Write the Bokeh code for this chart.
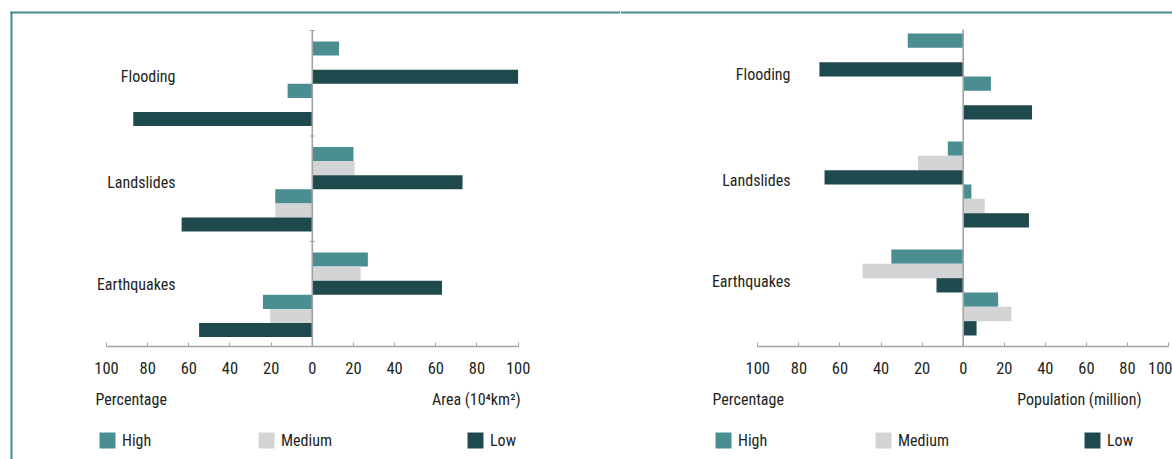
from bokeh.plotting import figure
from bokeh.layouts import row
from bokeh.models import (Range1d, LinearAxis, FixedTicker, CustomJSTickFormatter,
                          Legend, LegendItem)
from bokeh.core.properties import value
from bokeh.embed import file_html
from bokeh.resources import INLINE

# ---- data -------------------------------------------------------------
hazards = ["Flooding", "Landslides", "Earthquakes"]
levels = ["High", "Medium", "Low"]

# exposed area (10^4 km²)
area_high = [13, 20, 27]
area_medium = [0, 20.5, 23.5]
area_low = [100, 73, 63]
# share of area (%)
area_pct_high = [12, 18, 24]
area_pct_medium = [0, 18, 20.5]
area_pct_low = [87, 63.5, 55]

# share of population (%)
pop_pct_high = [27, 7.5, 35]
pop_pct_medium = [0, 22, 49]
pop_pct_low = [70, 67.5, 13]
# exposed population (million)
pop_high = [13.5, 4, 17]
pop_medium = [0, 10.5, 23.5]
pop_low = [33.5, 32, 6.5]

tick_values = [-100, -80, -60, -40, -20, 0, 20, 40, 60, 80, 100]

# ---- style ------------------------------------------------------------
COLORS = {"High": "#4b8e91", "Medium": "#d3d4d6", "Low": "#1f4a4d"}
TEXT = "#231f20"
AXIS = "#a3a3a3"
FRAME = "#4a8b8c"
FONT = "Roboto Condensed"
FS = "16px"
TICK_FS = "16.5px"
H = 459

# page-pixel geometry of each panel
LEFT = dict(
    x0=0, width=620, zero=311.8, scale=2.058,
    top=30, band=105.5, pad=11, slot=14.1, axis=346,
    upper=[area_high, area_medium, area_low], upper_sign=1,
    lower=[area_pct_high, area_pct_medium, area_pct_low],
    cat_right=175, cat_y=[75.5, 181.5, 283.5],
    ltitle=("Percentage", 95), rtitle=("Area (10\u2074km\u00b2)", 520),
    legend_x=[99, 258, 467], band_ticks=True, left_border=True,
)
RIGHT = dict(
    x0=620, width=552, zero=962.7, scale=2.054,
    top=29, band=108, pad=4, slot=14.33, axis=346,
    upper=[pop_pct_high, pop_pct_medium, pop_pct_low], upper_sign=-1,
    lower=[pop_high, pop_medium, pop_low],
    cat_right=790, cat_y=[74, 180, 281],
    ltitle=("Percentage", 712), rtitle=("Population (million)", 1141),
    legend_x=[715, 875, 1084], band_ticks=False, left_border=False,
)


def build_panel(s):
    def xd(gx):
        return (gx - s["zero"]) / s["scale"]

    def yd(py):
        return (py - s["top"]) / s["band"]

    p = figure(width=s["width"], height=H,
               x_range=Range1d(xd(s["x0"]), xd(s["x0"] + s["width"])),
               y_range=Range1d(yd(H), yd(0)),
               x_axis_type=None, y_axis_type=None,
               toolbar_location=None, output_backend="svg",
               min_border_left=0, min_border_right=0,
               min_border_top=0, min_border_bottom=0)
    p.outline_line_color = None

    n = len(hazards)
    bar_h = s["slot"] / s["band"]

    def slot_y(k):
        return [c + (s["pad"] + s["slot"] * (k + 0.5)) / s["band"] for c in range(n)]

    # bars: upper trio of slots and lower trio of slots in each hazard band
    legend_renderers = {}
    for k, lvl in enumerate(levels):
        up = [s["upper_sign"] * v for v in s["upper"][k]]
        lo = [-s["upper_sign"] * v for v in s["lower"][k]]
        r = p.hbar(y=slot_y(k), left=0, right=up, height=bar_h,
                   fill_color=COLORS[lvl], line_color=None)
        p.hbar(y=slot_y(k + 3), left=0, right=lo, height=bar_h,
               fill_color=COLORS[lvl], line_color=None)
        legend_renderers[lvl] = r

    # zero line
    p.segment(x0=[0], y0=[0], x1=[0], y1=[yd(s["axis"])],
              line_color=AXIS, line_width=1.6)
    if s["band_ticks"]:
        p.segment(x0=[-1.2] * n, x1=[1.2] * n, y0=list(range(n)), y1=list(range(n)),
                  line_color=AXIS, line_width=1.2)

    # value axis
    ax = LinearAxis(fixed_location=yd(s["axis"]), bounds=(-100, 100),
                    ticker=FixedTicker(ticks=tick_values),
                    formatter=CustomJSTickFormatter(code="return Math.abs(tick).toString()"))
    ax.axis_line_color = AXIS
    ax.axis_line_width = 1.5
    ax.major_tick_line_color = AXIS
    ax.major_tick_in = 4
    ax.major_tick_out = 0
    ax.minor_tick_line_color = None
    ax.major_label_text_font = FONT
    ax.major_label_text_font_size = TICK_FS
    ax.major_label_text_color = TEXT
    ax.major_label_standoff = 15
    p.add_layout(ax, "below")

    # hazard names
    p.text(x=[xd(s["cat_right"])] * n, y=[yd(v) for v in s["cat_y"]], text=hazards,
           text_align="right", text_baseline="middle", text_font=value(FONT),
           text_font_size=FS, text_color=TEXT)

    # axis titles
    lt, lx = s["ltitle"]
    rt, rx = s["rtitle"]
    p.text(x=[xd(lx)], y=[yd(399)], text=[lt], text_align="left",
           text_baseline="middle", text_font=value(FONT), text_font_size=FS,
           text_color=TEXT)
    p.text(x=[xd(rx)], y=[yd(399)], text=[rt], text_align="right",
           text_baseline="middle", text_font=value(FONT), text_font_size=FS,
           text_color=TEXT)

    # frame rule along the top (and left edge of the first panel)
    x_left = 10 if s["left_border"] else s["x0"]
    p.segment(x0=[xd(x_left)], x1=[xd(s["x0"] + s["width"])], y0=[yd(12)], y1=[yd(12)],
              line_color=FRAME, line_width=2)
    if s["left_border"]:
        p.segment(x0=[xd(11)], x1=[xd(11)], y0=[yd(11)], y1=[yd(H)],
                  line_color=FRAME, line_width=2)

    # legend: one entry per level, spread across the panel
    for lvl, gx in zip(levels, s["legend_x"]):
        leg = Legend(items=[LegendItem(label=lvl, renderers=[legend_renderers[lvl]])],
                     location=(gx - s["x0"] - 2, H - 448 - 2),
                     orientation="horizontal", glyph_width=20, glyph_height=20,
                     label_standoff=5, label_height=20,
                     label_text_font=FONT, label_text_font_size=FS,
                     label_text_color=TEXT, padding=0, margin=0, spacing=0,
                     border_line_color=None, background_fill_alpha=0)
        p.add_layout(leg, "center")
    return p


p1 = build_panel(LEFT)
p2 = build_panel(RIGHT)
layout = row(p1, p2)

open("out.html", "w").write(file_html(layout, INLINE))
